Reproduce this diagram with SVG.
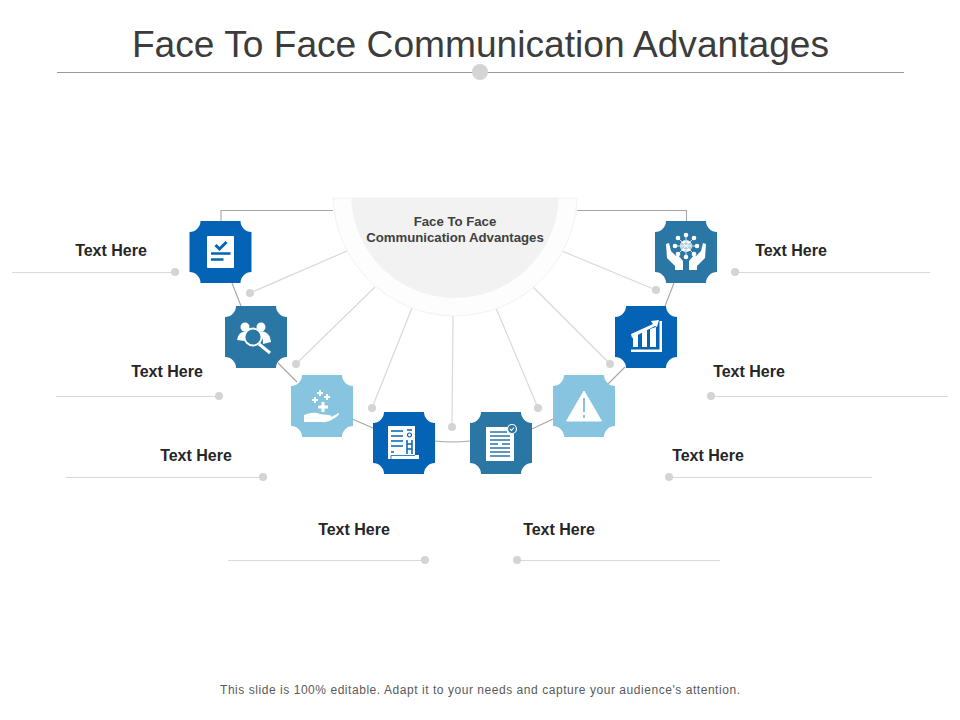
<svg xmlns="http://www.w3.org/2000/svg" width="960" height="720" viewBox="0 0 960 720">
<style>
text{font-family:"Liberation Sans",Arial,sans-serif}
.title{font-size:37.150px;fill:#3c3c3c;text-anchor:middle}
.foot{font-size:12px;fill:#5a5a5a;text-anchor:middle}
.lab{font-size:16px;font-weight:bold;fill:#262626;text-anchor:middle}
.cen{font-size:13.200px;font-weight:bold;fill:#404040;text-anchor:middle}
.spoke{fill:none;stroke:#d9d9d9;stroke-width:1.2}
.arc{fill:none;stroke:#a6a6a6;stroke-width:1.1}
.dot{fill:#d4d4d4}
.w{fill:#fff}
.wl{fill:none;stroke:#fff;stroke-width:2}
.dk{fill:#0563b5}
.tl{fill:#2a77a5}
.lt{fill:#87c4df}
</style>
<defs>
<path id="tile" d="M-20,-31H20A11,11 0 0 0 31,-20V20A11,11 0 0 0 20,31H-20A11,11 0 0 0 -31,20V-20A11,11 0 0 0 -20,-31Z"/>
<circle id="d" r="4" class="dot"/>
</defs>
<rect width="960" height="720" fill="#fff"/>
<g id="header">
<text class="title" x="480.500" y="57">Face To Face Communication Advantages</text>
<line x1="57" y1="72.500" x2="904" y2="72.500" stroke="#999" stroke-width="1"/>
<circle cx="480" cy="72" r="8" class="dot"/>
</g>
<g id="connectors">
<path class="arc" d="M333,210.500H221V221M577,210.500H686.500V221M232,283L241,306M278,363L297,382M352,419L373,428M435,441Q452,443 470,441M532,429L553,419M608,384L625,367M665,306L674,283"/>
<path class="spoke" d="M347,251L250,293M375,287L296,364M412,308L372,408M453,316L452,427M496,308L538,408M533,287L610,364M562,251L656,290"/>
<path class="spoke" d="M12,272.500H175M56,396.500H219M66,477.500H263M228,560.500H425M517,560.500H720M669,477.500H872M711,396.500H948M735,272.500H930"/>
<use href="#d" x="250" y="293"/><use href="#d" x="296" y="364"/><use href="#d" x="372" y="408"/><use href="#d" x="452" y="427"/><use href="#d" x="538" y="408"/><use href="#d" x="610" y="364"/><use href="#d" x="656" y="290"/>
<use href="#d" x="175" y="272"/><use href="#d" x="219" y="396"/><use href="#d" x="263" y="477"/><use href="#d" x="425" y="560"/><use href="#d" x="517" y="560"/><use href="#d" x="669" y="477"/><use href="#d" x="711" y="396"/><use href="#d" x="735" y="272"/>
</g>
<g id="center">
<path d="M333.070,198H576.930A122,122 0 0 1 333.070,198Z" fill="#fdfdfd" stroke="#f2f2f2" stroke-width="1"/>
<path d="M351.080,198H558.920A104,104 0 0 1 351.080,198Z" fill="#f2f2f2"/>
<text class="cen" x="455" y="226">Face To Face</text>
<text class="cen" x="455" y="242">Communication Advantages</text>
</g>
<g id="node-1" transform="translate(220.500,252)">
<use href="#tile" class="dk"/>
<rect x="-13.500" y="-16" width="27" height="32" rx="1" class="w"/>
<path d="M-5,-7L-1,-3L6,-10" fill="none" stroke="#0563b5" stroke-width="3"/>
<path d="M-9.500,1.500H10M-9.500,7.500H3" stroke="#0563b5" stroke-width="2.500" fill="none"/>
</g>
<g id="node-2" transform="translate(256,337)">
<use href="#tile" class="tl"/>
<circle cx="-11" cy="-10" r="4.500" class="w"/><circle cx="5" cy="-10" r="4.500" class="w"/>
<path d="M-19,3Q-18,-5 -11,-5.500Q-7,-5.500 -5,-4Q-12,-1 -11,4Z" class="w"/>
<path d="M0,-5Q5,-6.500 9,-5Q14,-3 15,5L7,7Q8,-1 0,-5Z" class="w"/>
<circle cx="-3" cy="0" r="8.500" fill="#2a77a5" stroke="#fff" stroke-width="1.800"/>
<path d="M3,7L14,16" stroke="#fff" stroke-width="3" fill="none"/>
</g>
<g id="node-3" transform="translate(322,406)">
<use href="#tile" class="lt"/>
<path d="M-5,-13H1M-2,-16V-10M-10,-6H-4M-7,-9V-3M2,-9H8M5,-12V-6" class="wl"/>
<path d="M-4,1H6M1,-4V6" stroke="#fff" stroke-width="3" fill="none"/>
<path d="M-18,9Q-8,5 -2,8L6,9Q10,9 9,11L17,7Q18,9 11,13Q6,17 0,16L-18,16Z" class="w"/>
</g>
<g id="node-4" transform="translate(404,443)">
<use href="#tile" class="dk"/>
<path d="M-16,-17H11V12H15V16H-16Z" class="w"/>
<path d="M-13,-12H-1M-13,-7H-1M-13,-2H-1M-13,3H-1M-13,9H-10" stroke="#0563b5" stroke-width="1.500" fill="none"/>
<path d="M3,-13H8M3,-3V11M8,-3V11M3,1H8M3,6H8" stroke="#0563b5" stroke-width="1.500" fill="none"/>
<circle cx="5.500" cy="-8" r="2" fill="none" stroke="#0563b5" stroke-width="1.200"/>
<path d="M-13,16V12.500H11" stroke="#0563b5" stroke-width="0.800" fill="none"/>
</g>
<g id="node-5" transform="translate(501,443)">
<use href="#tile" class="tl"/>
<rect x="-15" y="-16" width="28" height="34" class="w"/>
<path d="M-11,-11H6M-11,-7H9M-11,-3H9M-11,1H-3M1,1H9M-11,5H9M-11,9H9M-11,13H9" stroke="#2a77a5" stroke-width="1.300" fill="none"/>
<circle cx="11" cy="-14" r="4.500" fill="#2a77a5" stroke="#fff" stroke-width="1.200"/>
<path d="M9,-14L10.500,-12.500L13,-15.500" fill="none" stroke="#fff" stroke-width="1.100"/>
</g>
<g id="node-6" transform="translate(584,406)">
<use href="#tile" class="lt"/>
<path d="M0,-15L17.500,15H-17.500Z" class="w" stroke="#fff" stroke-width="1" stroke-linejoin="round"/>
<path d="M0,-8V6M0,9V12" stroke="#87c4df" stroke-width="2" fill="none"/>
</g>
<g id="node-7" transform="translate(646,337)">
<use href="#tile" class="dk"/>
<path d="M-13,-1V10H-8V-3ZM-4,-5V10H1V-7ZM4,-8V10H10V-10Z" class="w"/>
<path d="M-15,-3L7,-13L5,-16L13,-17L11,-10L9,-11L-14,1Z" class="w"/>
<path d="M-15,15H16V-16H13.500V12.500H-15Z" class="w"/>
</g>
<g id="node-8" transform="translate(686,252)">
<use href="#tile" class="tl"/>
<circle cx="0" cy="-6" r="6" class="w"/>
<path d="M-5,-8H5M-6,-6H6M-5,-4H5M0,-12V0" stroke="#2a77a5" stroke-width="0.700" fill="none"/>
<g class="w"><circle cx="0" cy="-17" r="2.300"/><circle cx="0" cy="5" r="2.300"/><circle cx="-11" cy="-6" r="2.300"/><circle cx="11" cy="-6" r="2.300"/><circle cx="-8" cy="-14" r="2.300"/><circle cx="8" cy="-14" r="2.300"/><circle cx="-8" cy="2" r="2.300"/><circle cx="8" cy="2" r="2.300"/></g>
<path d="M0,-17V5M-11,-6H11M-8,-14L8,2M8,-14L-8,2" stroke="#fff" stroke-width="0.800" fill="none"/>
<path d="M-20,-8L-17,-9L-15,-1L-10,4L-8,3L-3,9L-3,18H-11V14L-19,6Z" class="w"/>
<path d="M20,-8L17,-9L15,-1L10,4L8,3L3,9L3,18H11V14L19,6Z" class="w"/>
</g>
<g id="labels">
<text class="lab" x="111" y="256">Text Here</text>
<text class="lab" x="167" y="377">Text Here</text>
<text class="lab" x="196" y="461">Text Here</text>
<text class="lab" x="354" y="535">Text Here</text>
<text class="lab" x="559" y="535">Text Here</text>
<text class="lab" x="708" y="461">Text Here</text>
<text class="lab" x="749" y="377">Text Here</text>
<text class="lab" x="791" y="256">Text Here</text>
</g>
<text class="foot" x="480" y="694" textLength="520">This slide is 100% editable. Adapt it to your needs and capture your audience's attention.</text>
</svg>
